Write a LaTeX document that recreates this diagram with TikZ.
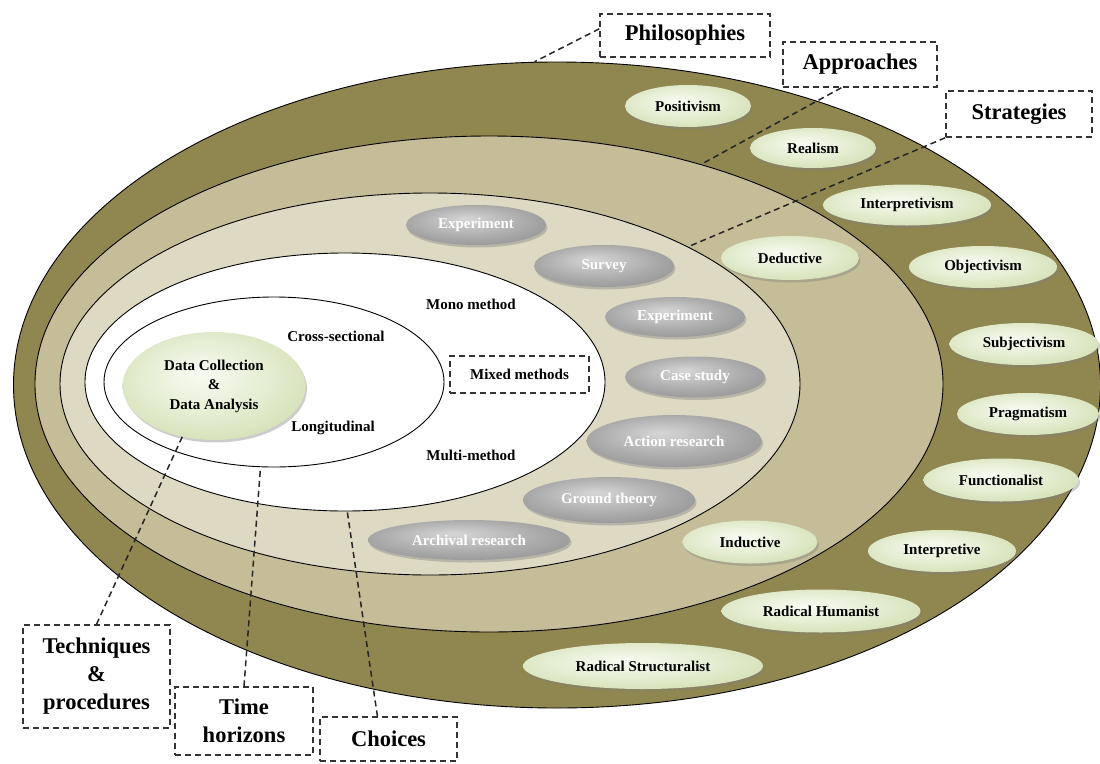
\documentclass[tikz,border=0pt]{standalone}
\usepackage{fontspec}
\setmainfont{Liberation Serif}
\usetikzlibrary{shapes.geometric,shadows,calc}

% band colours of the rings
\definecolor{bandA}{HTML}{8F8650}
\definecolor{bandB}{HTML}{C4BD97}
\definecolor{bandC}{HTML}{DDD9C3}
% green and grey bubble shading colours
\definecolor{leafhi}{HTML}{F8FBF2}
\definecolor{leafmid}{HTML}{E6EED4}
\definecolor{leafout}{HTML}{CDDBAA}
\definecolor{leafrim}{HTML}{A9BF7C}
\definecolor{stonehi}{HTML}{D6D6D6}
\definecolor{stonemid}{HTML}{ABABAB}
\definecolor{stoneout}{HTML}{858585}
\definecolor{stonerim}{HTML}{606060}
\pgfdeclareradialshading{leafshade}{\pgfpoint{-4bp}{6bp}}{color(0bp)=(leafhi); color(16bp)=(leafmid); color(36bp)=(leafout); color(50bp)=(leafrim)}
\pgfdeclareradialshading{stoneshade}{\pgfpoint{-4bp}{8bp}}{color(0bp)=(stonehi); color(20bp)=(stonemid); color(40bp)=(stoneout); color(50bp)=(stonerim)}

\begin{document}
\begin{tikzpicture}[x=1pt,y=-1pt,
  ring/.style={ellipse, draw=black, line width=0.9pt, inner sep=0pt},
  bubble/.style={ellipse, inner sep=0pt, align=center, font=\bfseries\fontsize{15}{19.5}\selectfont,
    drop shadow={shadow xshift=1.5pt, shadow yshift=-2.5pt, opacity=0.4}},
  leaf/.style={bubble, shading=leafshade, text=black},
  stone/.style={bubble, shading=stoneshade, text=white},
  tagbox/.style={draw=black!80, line width=1.5pt, dash pattern=on 6pt off 4pt,
    inner sep=0pt, align=center, font=\bfseries\fontsize{22.5}{28}\selectfont},
  leader/.style={draw=black!85, line width=1.5pt, dash pattern=on 6pt off 4pt},
  lbl/.style={font=\bfseries\fontsize{15}{19.5}\selectfont, inner sep=0pt, align=center}
]
\useasboundingbox (0,0) rectangle (1100,763);

% nested rings of the onion
\node[ring, fill=bandA, minimum width=1087pt, minimum height=646pt] (philo) at (557,385) {};
\node[ring, fill=bandB, minimum width=908pt, minimum height=496pt] (appr) at (489,384) {};
\node[ring, fill=bandC, minimum width=740pt, minimum height=382pt] (strat) at (430,384) {};
\node[ring, fill=white, minimum width=520pt, minimum height=258pt] (choice) at (345,382) {};
\node[ring, fill=white, minimum width=340pt, minimum height=170pt] (timering) at (274,382) {};

% core: techniques and procedures
\node[leaf, minimum width=183pt, minimum height=108pt] (tech) at (214,386)
  {Data Collection\\\&\\Data Analysis};
\node[lbl] (cross) at (336,336) {Cross-sectional};
\node[lbl] (longi) at (333,428) {Longitudinal};
\node[lbl] (mono) at (471,304) {Mono method};
\node[lbl] (multi) at (471,455) {Multi-method};
\node[tagbox, font=\bfseries\fontsize{15}{19.5}\selectfont, minimum width=139pt, minimum height=37pt] (mixed) at (519.5,374.5) {Mixed methods};

% strategies
\node[stone, minimum width=140pt, minimum height=40pt] (s1) at (476,225) {Experiment};
\node[stone, minimum width=140pt, minimum height=42pt] (s2) at (604,266) {Survey};
\node[stone, minimum width=140pt, minimum height=40pt] (s3) at (675,317) {Experiment};
\node[stone, minimum width=140pt, minimum height=41pt] (s4) at (695,377) {Case study};
\node[stone, minimum width=175pt, minimum height=52pt] (s5) at (674,441) {Action research};
\node[stone, minimum width=172pt, minimum height=46pt] (s6) at (609,500) {Ground theory};
\node[stone, minimum width=202pt, minimum height=40pt] (s7) at (469,540) {Archival research};

% approaches
\node[leaf, minimum width=138pt, minimum height=44pt] (a1) at (790,258) {Deductive};
\node[leaf, minimum width=135pt, minimum height=43pt] (a2) at (750,542) {Inductive};

% philosophies
\node[leaf, minimum width=126pt, minimum height=42pt] (p1) at (688,106) {Positivism};
\node[leaf, minimum width=126pt, minimum height=40pt] (p2) at (813,148) {Realism};
\node[leaf, minimum width=168pt, minimum height=41pt] (p3) at (907,205) {Interpretivism};
\node[leaf, minimum width=148pt, minimum height=42pt] (p4) at (983,267) {Objectivism};
\node[leaf, minimum width=149pt, minimum height=42pt] (p5) at (1024,344) {Subjectivism};
\node[leaf, minimum width=142pt, minimum height=42pt] (p6) at (1028,414) {Pragmatism};
\node[leaf, minimum width=155pt, minimum height=43pt] (p7) at (1001,480) {Functionalist};
\node[leaf, minimum width=148pt, minimum height=42pt] (p8) at (942,551) {Interpretive};
\node[leaf, minimum width=199pt, minimum height=43pt] (p9) at (821,611) {Radical Humanist};
\node[leaf, minimum width=240pt, minimum height=46pt] (p10) at (643,666) {Radical Structuralist};

% layer tags
\node[tagbox, minimum width=170pt, minimum height=43pt] (philbox) at (685,35.5) {Philosophies};
\node[tagbox, minimum width=154pt, minimum height=45pt] (apprbox) at (860,64.5) {Approaches};
\node[tagbox, minimum width=146pt, minimum height=46pt] (stratbox) at (1019,114) {Strategies};
\node[tagbox, minimum width=147pt, minimum height=103pt] (techbox) at (96.5,676.5) {Techniques\\\&\\procedures};
\node[tagbox, minimum width=138pt, minimum height=68pt] (timebox) at (244,721) {Time\\horizons};
\node[tagbox, minimum width=137pt, minimum height=44pt] (choicebox) at (388.5,739) {Choices};

% leaders from tags to their rings
\draw[leader] ($(philbox.north west)!0.35!(philbox.south west)$) -- (philo.94);
\draw[leader] ($(apprbox.south west)!0.38!(apprbox.south east)$) -- (appr.46.6);
\draw[leader] (stratbox.south west) -- (strat.28);
\draw[leader] (techbox.north) -- (tech.238);
\draw[leader] (timebox.north) -- (timering.261);
\draw[leader] ($(choicebox.north west)!0.42!(choicebox.north east)$) -- (choice.271);
\end{tikzpicture}
\end{document}
